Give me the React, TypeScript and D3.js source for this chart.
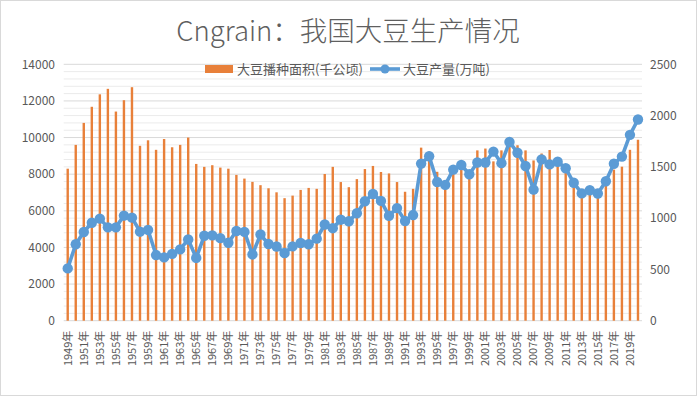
import { useEffect, useRef } from 'react';
import * as d3 from 'd3';

const YEARS = [
  1949, 1950, 1951, 1952, 1953, 1954, 1955, 1956, 1957, 1958, 1959, 1960,
  1961, 1962, 1963, 1964, 1965, 1966, 1967, 1968, 1969, 1970, 1971, 1972,
  1973, 1974, 1975, 1976, 1977, 1978, 1979, 1980, 1981, 1982, 1983, 1984,
  1985, 1986, 1987, 1988, 1989, 1990, 1991, 1992, 1993, 1994, 1995, 1996,
  1997, 1998, 1999, 2000, 2001, 2002, 2003, 2004, 2005, 2006, 2007, 2008,
  2009, 2010, 2011, 2012, 2013, 2014, 2015, 2016, 2017, 2018, 2019, 2020,
];

// 大豆播种面积(千公顷)
const AREA = [
  8300, 9600, 10800, 11680, 12360, 12660, 11420, 12040, 12750, 9550, 9850, 9330,
  9920, 9470, 9600, 10000, 8560, 8400, 8490, 8360, 8300, 7960, 7760, 7580,
  7400, 7230, 7010, 6690, 6830, 7140, 7250, 7200, 8010, 8400, 7570, 7290,
  7730, 8280, 8450, 8120, 8040, 7570, 7040, 7200, 9450, 9230, 8130, 7470,
  8350, 8500, 7960, 9300, 9400, 8700, 9300, 9580, 9580, 9300, 8750, 9130,
  9320, 8600, 8100, 7400, 7050, 7100, 6830, 7600, 8250, 8410, 9330, 9880,
];

// 大豆产量(万吨)
const OUTPUT = [
  510, 745, 865, 955, 995, 910, 910, 1025, 1005, 868, 885, 640,
  617, 652, 695, 792, 612, 828, 832, 805, 760, 875, 866, 646,
  840, 748, 723, 660, 725, 758, 745, 800, 938, 902, 985, 970,
  1048, 1165, 1235, 1168, 1023, 1098, 972, 1030, 1532, 1603, 1352, 1324,
  1473, 1518, 1428, 1543, 1543, 1649, 1536, 1742, 1638, 1508, 1278, 1573,
  1524, 1550, 1486, 1345, 1241, 1272, 1240, 1360, 1530, 1600, 1812, 1962,
];

const LEFT_TICKS = [0, 2000, 4000, 6000, 8000, 10000, 12000, 14000];
const RIGHT_TICKS = [0, 500, 1000, 1500, 2000, 2500];

const TITLE = 'Cngrain：我国大豆生产情况';
const AREA_LABEL = '大豆播种面积(千公顷)';
const OUTPUT_LABEL = '大豆产量(万吨)';

const ORANGE = '#E8803A';
const BLUE = '#5B9BD5';
const TEXT = '#595959';
const FONT = '"Noto Sans CJK SC", "Noto Sans", sans-serif';

export default function App() {
  const svgRef = useRef<SVGSVGElement>(null);

  useEffect(() => {
    document.body.style.margin = '0';
    const svgEl = svgRef.current;
    if (!svgEl) return;

    const width = 700, height = 397;
    const margin = { top: 64.3, right: 58, bottom: 76.3, left: 63.7 };
    const x0 = margin.left, x1 = width - margin.right;
    const yBase = height - margin.bottom;

    const x = d3.scaleBand<number>().domain(YEARS).range([x0, x1]);
    const yL = d3.scaleLinear().domain([0, 14000]).range([yBase, margin.top]);
    const yR = d3.scaleLinear().domain([0, 2500]).range([yBase, margin.top]);
    const cx = (yr: number) => (x(yr) ?? 0) + x.bandwidth() / 2;

    const svg = d3.select(svgEl);
    svg.selectAll('*').remove();

    svg.append('rect')
      .attr('x', 0.5).attr('y', 0.5).attr('width', 696).attr('height', 395)
      .attr('fill', '#fff').attr('stroke', '#d9d9d9');

    // Minor grid lines
    const minor = d3.range(0, 14001, 400).filter((v) => v % 2000 !== 0);
    svg.append('g').selectAll('line').data(minor).join('line')
      .attr('x1', x0).attr('x2', x1)
      .attr('y1', (d) => yL(d)).attr('y2', (d) => yL(d))
      .attr('stroke', '#ebebeb').attr('stroke-width', 1);

    // Major grid lines
    svg.append('g').selectAll('line').data(LEFT_TICKS).join('line')
      .attr('x1', x0).attr('x2', x1)
      .attr('y1', (d) => yL(d)).attr('y2', (d) => yL(d))
      .attr('stroke', '#d9d9d9').attr('stroke-width', 1);

    // Left axis labels
    svg.append('g').selectAll('text').data(LEFT_TICKS).join('text')
      .attr('x', 55).attr('y', (d) => yL(d)).attr('dy', '0.35em')
      .attr('text-anchor', 'end').attr('font-size', 12).attr('fill', TEXT)
      .attr('font-family', FONT)
      .text((d) => String(d));

    // Right axis labels
    svg.append('g').selectAll('text').data(RIGHT_TICKS).join('text')
      .attr('x', 650).attr('y', (d) => yR(d)).attr('dy', '0.35em')
      .attr('text-anchor', 'start').attr('font-size', 12).attr('fill', TEXT)
      .attr('font-family', FONT)
      .text((d) => String(d));

    // Bars
    const bw = 2.4;
    svg.append('g').selectAll('rect').data(YEARS).join('rect')
      .attr('x', (d) => cx(d) - bw / 2).attr('width', bw)
      .attr('y', (_, i) => yL(AREA[i]))
      .attr('height', (_, i) => yBase - yL(AREA[i]))
      .attr('fill', ORANGE);

    // Production line
    const line = d3.line<number>()
      .x((d) => cx(d))
      .y((_, i) => yR(OUTPUT[i]));
    svg.append('path').datum(YEARS).attr('d', line)
      .attr('fill', 'none').attr('stroke', BLUE).attr('stroke-width', 3.6)
      .attr('stroke-linejoin', 'round');
    svg.append('g').selectAll('circle').data(YEARS).join('circle')
      .attr('cx', (d) => cx(d)).attr('cy', (_, i) => yR(OUTPUT[i])).attr('r', 5.2)
      .attr('fill', BLUE);

    // X labels, every other year
    svg.append('g').selectAll('text').data(YEARS.filter((_, i) => i % 2 === 0)).join('text')
      .attr('transform', (d) => `translate(${cx(d)},${yBase + 10}) rotate(-90)`)
      .attr('dy', '0.35em').attr('text-anchor', 'end')
      .attr('font-size', 11).attr('fill', TEXT).attr('font-family', FONT)
      .text((d) => `${d}年`);

    // Title
    svg.append('text')
      .attr('x', 348).attr('y', 41).attr('text-anchor', 'middle')
      .attr('font-size', 27.5).attr('font-weight', 300).attr('fill', '#5f5f5f')
      .attr('font-family', FONT)
      .text(TITLE);

    // Legend
    const lg = svg.append('g').attr('font-family', FONT).attr('font-size', 13).attr('fill', TEXT);
    lg.append('rect').attr('x', 205).attr('y', 65).attr('width', 28).attr('height', 8).attr('fill', ORANGE);
    lg.append('text').attr('x', 237).attr('y', 69).attr('dy', '0.35em').text(AREA_LABEL);
    lg.append('line').attr('x1', 370).attr('x2', 400).attr('y1', 69).attr('y2', 69)
      .attr('stroke', BLUE).attr('stroke-width', 3.6);
    lg.append('circle').attr('cx', 385).attr('cy', 69).attr('r', 4.5).attr('fill', BLUE);
    lg.append('text').attr('x', 403).attr('y', 69).attr('dy', '0.35em').text(OUTPUT_LABEL);
  }, []);

  return (
    <svg ref={svgRef} width={700} height={397} style={{ display: 'block' }}
      role="img" aria-label={TITLE} />
  );
}
